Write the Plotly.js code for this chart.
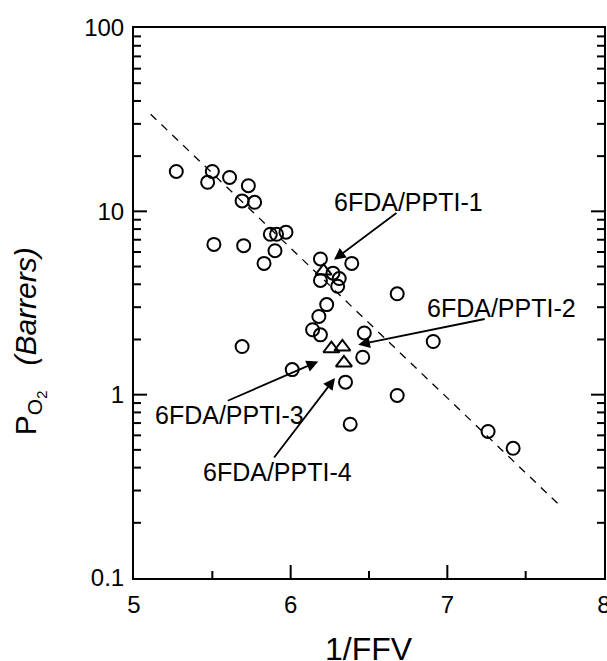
<!DOCTYPE html>
<html>
<head>
<meta charset="utf-8">
<script src="https://cdn.plot.ly/plotly-3.0.1.min.js"></script>
<style>html,body{margin:0;padding:0;background:#fff;}#chart{width:607px;height:661px;}</style>
</head>
<body>
<div id="chart"></div>
<script>
// Open circles: other polyimides (1/FFV vs P_O2)
var circleX = [5.27,5.50,5.47,5.61,5.73,5.69,5.77,5.87,5.91,5.97,5.51,5.70,5.90,5.83,6.19,6.39,6.27,6.31,6.19,6.30,6.23,6.68,6.18,6.14,6.19,6.47,6.91,6.46,6.35,6.68,6.38,7.26,7.42,5.69,6.01];
var circleY = [16.5,16.5,14.4,15.3,13.8,11.4,11.2,7.5,7.5,7.7,6.6,6.5,6.1,5.2,5.5,5.2,4.6,4.3,4.2,3.9,3.1,3.55,2.67,2.26,2.12,2.17,1.95,1.60,1.17,0.99,0.69,0.63,0.51,1.83,1.37];
// Open triangles: 6FDA/PPTI-1..4
var triX = [6.21,6.26,6.33,6.34];
var triY = [4.72,1.78,1.82,1.49];
// Dashed trend line end points
var fitX = [5.106,7.719];
var fitY = [33.86,0.248];
// Labels and arrow heads
var labelText = ['6FDA/PPTI-1','6FDA/PPTI-2','6FDA/PPTI-3','6FDA/PPTI-4'];
var headX = [6.276,6.431,6.176,6.283];
var headY = [5.44,1.873,1.519,1.233];
// Ticks and tick labels
var xTickVals = [5,6,7,8];
var xTickText = ['5','6','7','8'];
var xMinorVals = [5.5,6.5,7.5];
var yTickVals = [0.1,1,10,100];
var yTickText = ['0.1','1','10','100'];
var yMinorVals = [0.2,0.3,0.4,0.5,0.6,0.7,0.8,0.9,2,3,4,5,6,7,8,9,20,30,40,50,60,70,80,90];

var FONT = 'Liberation Sans, Arial, Helvetica, sans-serif';
var X_RANGE = [5, 8], Y_RANGE = [-1, 2];
var PLOT_W = 470, PLOT_H = 550;

// inward tick marks built from the tick arrays (bottom, left, right)
var tx = [], ty = [];
var xPerPx = (X_RANGE[1] - X_RANGE[0]) / PLOT_W;
var lyPerPx = (Y_RANGE[1] - Y_RANGE[0]) / PLOT_H;
function xTick(v, len) {
  tx.push(v, v, null);
  ty.push(Math.pow(10, Y_RANGE[0]), Math.pow(10, Y_RANGE[0] + len * lyPerPx), null);
}
function yTick(v, len) {
  tx.push(X_RANGE[0], X_RANGE[0] + len * xPerPx, null);
  ty.push(v, v, null);
  tx.push(X_RANGE[1] - len * xPerPx, X_RANGE[1], null);
  ty.push(v, v, null);
}
xTickVals.forEach(function (v) { if (v > X_RANGE[0] && v < X_RANGE[1]) xTick(v, 13); });
xMinorVals.forEach(function (v) { xTick(v, 7); });
yTickVals.forEach(function (v) { var l = Math.log10(v); if (l > Y_RANGE[0] && l < Y_RANGE[1]) yTick(v, 13); });
yMinorVals.forEach(function (v) { yTick(v, 7); });

var traces = [
  {x: tx, y: ty, mode: 'lines', type: 'scatter', line: {color: '#000', width: 2},
   connectgaps: false, hoverinfo: 'skip', cliponaxis: false},
  {x: fitX, y: fitY, mode: 'lines', type: 'scatter',
   line: {color: '#000', width: 1.3, dash: '8px,7px'}, hoverinfo: 'skip'},
  {x: circleX, y: circleY, mode: 'markers', type: 'scatter',
   marker: {symbol: 'circle-open', size: 13, color: '#000', line: {width: 2, color: '#000'}}},
  {x: triX, y: triY, mode: 'markers', type: 'scatter',
   marker: {symbol: 'triangle-up-open', size: 14, color: '#000', line: {width: 2, color: '#000'}}}
];

// label text positions (paper) and arrow tail offsets (pixels)
var labelPos = [[0.583,0.684],[0.781,0.491],[0.2036,0.2964],[0.3043,0.1927]];
var tailOff = [[64,-48],[128,-26],[-92,40],[-62,81]];

var annotations = [];
for (var i = 0; i < labelText.length; i++) {
  annotations.push({xref: 'paper', yref: 'paper', x: labelPos[i][0], y: labelPos[i][1],
    text: labelText[i], showarrow: false, xanchor: 'center', yanchor: 'middle',
    font: {family: FONT, size: 25, color: '#000'}});
  annotations.push({xref: 'x', yref: 'y', x: headX[i], y: Math.log10(headY[i]),
    text: '', showarrow: true, ax: tailOff[i][0], ay: tailOff[i][1],
    arrowhead: 2, arrowsize: 1.3, arrowwidth: 1.8, arrowcolor: '#000', standoff: 0});
}
// axis titles
annotations.push({xref: 'paper', yref: 'paper', x: -0.222, y: 0.43, textangle: -90,
  text: 'P<sub>O<sub>2</sub></sub>\u00a0\u00a0\u00a0<i>(Barrers)</i>', showarrow: false,
  xanchor: 'center', yanchor: 'middle', font: {family: FONT, size: 30, color: '#000'}});
annotations.push({xref: 'paper', yref: 'paper', x: 0.5, y: -0.13,
  text: '1/FFV', showarrow: false, xanchor: 'center', yanchor: 'middle',
  font: {family: FONT, size: 32, color: '#000'}});

var layout = {
  width: 607, height: 661,
  margin: {l: 134, r: 3, t: 28, b: 83, pad: 0},
  paper_bgcolor: '#fff', plot_bgcolor: '#fff',
  showlegend: false,
  font: {family: FONT, color: '#000'},
  xaxis: {range: X_RANGE, tickmode: 'array', tickvals: xTickVals, ticktext: xTickText,
    ticks: '', showline: true, linewidth: 2, linecolor: '#000', mirror: true,
    showgrid: false, zeroline: false, ticklabelstandoff: 4, ticklabeloverflow: 'allow',
    tickfont: {family: FONT, size: 24, color: '#000'}},
  yaxis: {type: 'log', range: Y_RANGE, tickmode: 'array', tickvals: yTickVals, ticktext: yTickText,
    ticks: '', showline: true, linewidth: 2, linecolor: '#000', mirror: true,
    showgrid: false, zeroline: false, ticklabelstandoff: 3, ticklabeloverflow: 'allow',
    tickfont: {family: FONT, size: 24, color: '#000'}},
  annotations: annotations
};

Plotly.newPlot('chart', traces, layout, {displayModeBar: false, staticPlot: true});
</script>
</body>
</html>
